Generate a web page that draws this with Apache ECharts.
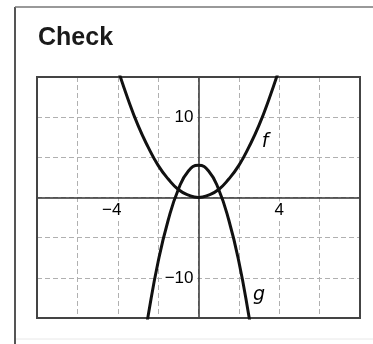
<!DOCTYPE html>
<html>
<head>
<meta charset="utf-8">
<script src="https://cdn.jsdelivr.net/npm/echarts@6/dist/echarts.min.js"></script>
<style>
  html, body { margin: 0; padding: 0; background: #fff; }
  #main { width: 373px; height: 344px; }
</style>
</head>
<body>
<div id="main"></div>
<script>
  // points
  var fX = [-4, -3.5, -3, -2.5, -2, -1.5, -1, -0.5, 0, 0.5, 1, 1.5, 2, 2.5, 3, 3.5, 4];
  var fY = [16, 12.3, 9, 6.3, 4, 2.3, 1, 0.3, 0, 0.3, 1, 2.3, 4, 6.3, 9, 12.3, 16];
  var gX = [-2.75, -2.5, -2, -1.5, -1, -0.5, 0, 0.5, 1, 1.5, 2, 2.5, 2.75];
  var gY = [-18.7, -14.8, -8, -2.8, 1, 3.3, 4, 3.3, 1, -2.8, -8, -14.8, -18.7];
  var xTicks = [-4, 4];
  var xTickLabels = ['\u22124', '4'];
  var yTicks = [10, -10];
  var yTickLabels = ['10', '\u221210'];

  function pairs(xs, ys) {
    var out = [];
    for (var i = 0; i < xs.length; i++) out.push([xs[i], ys[i]]);
    return out;
  }

  var chart = echarts.init(document.getElementById('main'));

  var font = 'Liberation Sans, Arial, sans-serif';
  var gridLine = { lineStyle: { color: '#b0b0b0', type: [5, 3], width: 1 } };
  var axisLine = { onZero: true, lineStyle: { color: '#333', width: 1.5 } };
  var tickFont = { fontFamily: font, fontSize: 17, color: '#000', backgroundColor: '#fff' };

  var xTickPoints = xTicks.map(function (v, i) {
    return { coord: [v, 0], value: xTickLabels[i], label: Object.assign({
      show: true, position: 'bottom', distance: 4, formatter: xTickLabels[i],
      padding: v < 0 ? [0, 12, 0, 0] : [0, 2]
    }, tickFont) };
  });
  var yTickPoints = yTicks.map(function (v, i) {
    return { coord: [0, v], value: yTickLabels[i], label: Object.assign({
      show: true, position: 'left', distance: 3, formatter: yTickLabels[i], padding: [0, 2]
    }, tickFont) };
  });

  chart.setOption({
    animation: false,
    title: {
      text: 'Check',
      left: 33,
      top: 21,
      textStyle: { fontFamily: font, fontSize: 25, fontWeight: 'bold', color: '#1a1a1a' }
    },
    graphic: [
      { type: 'line', shape: { x1: 15, y1: 7, x2: 15, y2: 344 }, style: { stroke: '#555', lineWidth: 2 } },
      { type: 'line', shape: { x1: 15, y1: 7, x2: 373, y2: 7 }, style: { stroke: '#777', lineWidth: 1.5 } },
      { type: 'line', shape: { x1: 16, y1: 339, x2: 373, y2: 339 }, style: { stroke: '#e8e8e8', lineWidth: 1 } }
    ],
    grid: {
      left: 37, right: 13, top: 77, bottom: 26, z: 3,
      show: true, borderColor: '#444', borderWidth: 2
    },
    xAxis: {
      type: 'value', min: -8, max: 8, interval: 2,
      axisLine: axisLine, axisTick: { show: false }, axisLabel: { show: false },
      splitLine: gridLine
    },
    yAxis: {
      type: 'value', min: -15, max: 15, interval: 5,
      axisLine: axisLine, axisTick: { show: false }, axisLabel: { show: false },
      splitLine: gridLine
    },
    series: [
      {
        name: 'f', type: 'line', smooth: true, showSymbol: false, clip: true,
        data: pairs(fX, fY),
        lineStyle: { color: '#111', width: 3 },
        markPoint: {
          symbolSize: 0,
          data: [{ coord: [3.3, 6.9], value: 'f' }],
          label: { show: true, position: 'inside', formatter: 'f', fontFamily: 'DejaVu Sans', fontStyle: 'italic', fontSize: 19, color: '#000' }
        }
      },
      {
        name: 'g', type: 'line', smooth: true, showSymbol: false, clip: true,
        data: pairs(gX, gY),
        lineStyle: { color: '#111', width: 3 },
        markPoint: {
          symbolSize: 0,
          data: [{ coord: [3.0, -12.1], value: 'g' }],
          label: { show: true, position: 'inside', formatter: 'g', fontFamily: 'DejaVu Sans', fontStyle: 'italic', fontSize: 19, color: '#000' }
        }
      },
      {
        name: 'ticks', type: 'scatter', data: [], z: 5,
        markPoint: {
          symbolSize: 0,
          data: xTickPoints.concat(yTickPoints)
        }
      }
    ]
  });
</script>
</body>
</html>
